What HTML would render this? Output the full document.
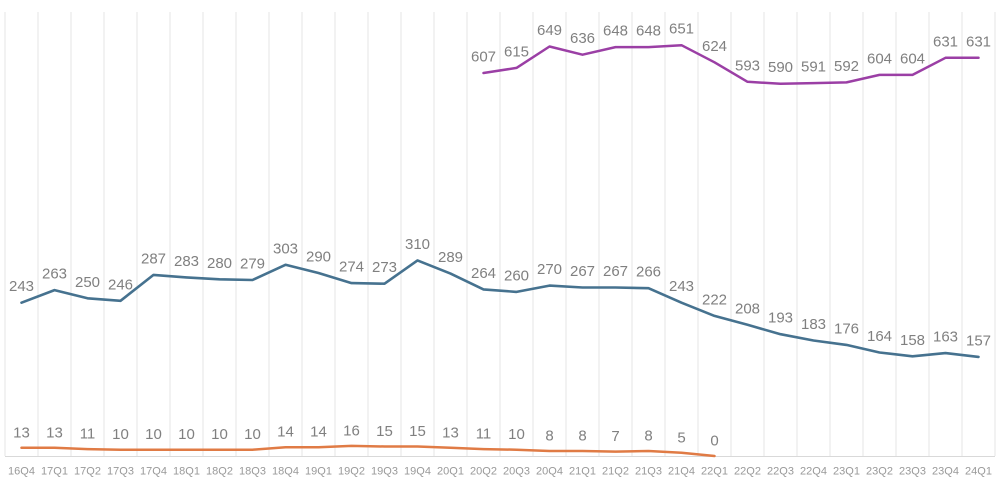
<!DOCTYPE html>
<html><head><meta charset="utf-8"><style>
html,body{margin:0;padding:0;background:#fff;}
svg{display:block;}
.t{font-family:"Liberation Sans",sans-serif;font-size:15px;fill:#808080;text-anchor:middle;}
.x{font-family:"Liberation Sans",sans-serif;font-size:11px;fill:#999;text-anchor:middle;}
</style></head><body>
<svg width="1000" height="492" viewBox="0 0 1000 492" xmlns="http://www.w3.org/2000/svg">
<g stroke="#e6e6e6" stroke-width="1">
<line x1="5" y1="12" x2="5" y2="456"/><line x1="38" y1="12" x2="38" y2="456"/><line x1="71" y1="12" x2="71" y2="456"/><line x1="104" y1="12" x2="104" y2="456"/><line x1="137" y1="12" x2="137" y2="456"/><line x1="170" y1="12" x2="170" y2="456"/><line x1="203" y1="12" x2="203" y2="456"/><line x1="236" y1="12" x2="236" y2="456"/><line x1="269" y1="12" x2="269" y2="456"/><line x1="302" y1="12" x2="302" y2="456"/><line x1="335" y1="12" x2="335" y2="456"/><line x1="368" y1="12" x2="368" y2="456"/><line x1="401" y1="12" x2="401" y2="456"/><line x1="434" y1="12" x2="434" y2="456"/><line x1="467" y1="12" x2="467" y2="456"/><line x1="500" y1="12" x2="500" y2="456"/><line x1="533" y1="12" x2="533" y2="456"/><line x1="566" y1="12" x2="566" y2="456"/><line x1="599" y1="12" x2="599" y2="456"/><line x1="632" y1="12" x2="632" y2="456"/><line x1="665" y1="12" x2="665" y2="456"/><line x1="698" y1="12" x2="698" y2="456"/><line x1="731" y1="12" x2="731" y2="456"/><line x1="764" y1="12" x2="764" y2="456"/><line x1="797" y1="12" x2="797" y2="456"/><line x1="830" y1="12" x2="830" y2="456"/><line x1="863" y1="12" x2="863" y2="456"/><line x1="896" y1="12" x2="896" y2="456"/><line x1="929" y1="12" x2="929" y2="456"/><line x1="962" y1="12" x2="962" y2="456"/><line x1="995" y1="12" x2="995" y2="456"/>
</g>
<line x1="5" y1="456.5" x2="995" y2="456.5" stroke="#d9d9d9" stroke-width="1"/>

<polyline fill="none" stroke="#46728f" stroke-width="2.6" stroke-linejoin="round" stroke-linecap="round" points="21.5,302.7 54.5,290.1 87.5,298.3 120.5,300.8 153.5,274.9 186.5,277.4 219.5,279.3 252.5,280 285.5,264.8 318.5,273 351.5,283.1 384.5,283.7 417.5,260.4 450.5,273.6 483.5,289.4 516.5,291.9 549.5,285.6 582.5,287.5 615.5,287.5 648.5,288.2 681.5,302.7 714.5,315.9 747.5,324.8 780.5,334.2 813.5,340.5 846.5,344.9 879.5,352.5 912.5,356.3 945.5,353.1 978.5,356.9"/>

<polyline fill="none" stroke="#9b3fa5" stroke-width="2.5" stroke-linejoin="round" stroke-linecap="round" points="483.5,73 516.5,67.9 549.5,46.5 582.5,54.7 615.5,47.1 648.5,47.1 681.5,45.2 714.5,62.3 747.5,81.8 780.5,83.7 813.5,83.1 846.5,82.4 879.5,74.9 912.5,74.9 945.5,57.8 978.5,57.8"/>

<polyline fill="none" stroke="#e07b45" stroke-width="2.5" stroke-linejoin="round" stroke-linecap="round" points="21.5,447.8 54.5,447.8 87.5,449.1 120.5,449.7 153.5,449.7 186.5,449.7 219.5,449.7 252.5,449.7 285.5,447.2 318.5,447.2 351.5,445.9 384.5,446.5 417.5,446.5 450.5,447.8 483.5,449.1 516.5,449.7 549.5,451 582.5,451 615.5,451.6 648.5,451 681.5,452.8 714.5,456"/>

<g class="t">
<text x="21.5" y="291.2">243</text><text x="54.5" y="278.6">263</text><text x="87.5" y="286.8">250</text><text x="120.5" y="289.3">246</text><text x="153.5" y="263.4">287</text><text x="186.5" y="265.9">283</text><text x="219.5" y="267.8">280</text><text x="252.5" y="268.5">279</text><text x="285.5" y="253.3">303</text><text x="318.5" y="261.5">290</text><text x="351.5" y="271.6">274</text><text x="384.5" y="272.2">273</text><text x="417.5" y="248.9">310</text><text x="450.5" y="262.1">289</text><text x="483.5" y="277.9">264</text><text x="516.5" y="280.4">260</text><text x="549.5" y="274.1">270</text><text x="582.5" y="276">267</text><text x="615.5" y="276">267</text><text x="648.5" y="276.7">266</text><text x="681.5" y="291.2">243</text><text x="714.5" y="304.4">222</text><text x="747.5" y="313.3">208</text><text x="780.5" y="322.7">193</text><text x="813.5" y="329">183</text><text x="846.5" y="333.4">176</text><text x="879.5" y="341">164</text><text x="912.5" y="344.8">158</text><text x="945.5" y="341.6">163</text><text x="978.5" y="345.4">157</text>

<text x="483.5" y="61.5">607</text><text x="516.5" y="56.4">615</text><text x="549.5" y="35">649</text><text x="582.5" y="43.2">636</text><text x="615.5" y="35.6">648</text><text x="648.5" y="35.6">648</text><text x="681.5" y="33.7">651</text><text x="714.5" y="50.8">624</text><text x="747.5" y="70.3">593</text><text x="780.5" y="72.2">590</text><text x="813.5" y="71.6">591</text><text x="846.5" y="70.9">592</text><text x="879.5" y="63.4">604</text><text x="912.5" y="63.4">604</text><text x="945.5" y="46.3">631</text><text x="978.5" y="46.3">631</text>

<text x="21.5" y="437.3">13</text><text x="54.5" y="437.3">13</text><text x="87.5" y="438.6">11</text><text x="120.5" y="439.2">10</text><text x="153.5" y="439.2">10</text><text x="186.5" y="439.2">10</text><text x="219.5" y="439.2">10</text><text x="252.5" y="439.2">10</text><text x="285.5" y="436.7">14</text><text x="318.5" y="436.7">14</text><text x="351.5" y="435.4">16</text><text x="384.5" y="436">15</text><text x="417.5" y="436">15</text><text x="450.5" y="437.3">13</text><text x="483.5" y="438.6">11</text><text x="516.5" y="439.2">10</text><text x="549.5" y="440.5">8</text><text x="582.5" y="440.5">8</text><text x="615.5" y="441.1">7</text><text x="648.5" y="440.5">8</text><text x="681.5" y="442.3">5</text><text x="714.5" y="445.5">0</text>
</g>

<g class="x">
<text x="21.5" y="474.5">16Q4</text><text x="54.5" y="474.5">17Q1</text><text x="87.5" y="474.5">17Q2</text><text x="120.5" y="474.5">17Q3</text><text x="153.5" y="474.5">17Q4</text><text x="186.5" y="474.5">18Q1</text><text x="219.5" y="474.5">18Q2</text><text x="252.5" y="474.5">18Q3</text><text x="285.5" y="474.5">18Q4</text><text x="318.5" y="474.5">19Q1</text><text x="351.5" y="474.5">19Q2</text><text x="384.5" y="474.5">19Q3</text><text x="417.5" y="474.5">19Q4</text><text x="450.5" y="474.5">20Q1</text><text x="483.5" y="474.5">20Q2</text><text x="516.5" y="474.5">20Q3</text><text x="549.5" y="474.5">20Q4</text><text x="582.5" y="474.5">21Q1</text><text x="615.5" y="474.5">21Q2</text><text x="648.5" y="474.5">21Q3</text><text x="681.5" y="474.5">21Q4</text><text x="714.5" y="474.5">22Q1</text><text x="747.5" y="474.5">22Q2</text><text x="780.5" y="474.5">22Q3</text><text x="813.5" y="474.5">22Q4</text><text x="846.5" y="474.5">23Q1</text><text x="879.5" y="474.5">23Q2</text><text x="912.5" y="474.5">23Q3</text><text x="945.5" y="474.5">23Q4</text><text x="978.5" y="474.5">24Q1</text>
</g>
</svg>
</body></html>
